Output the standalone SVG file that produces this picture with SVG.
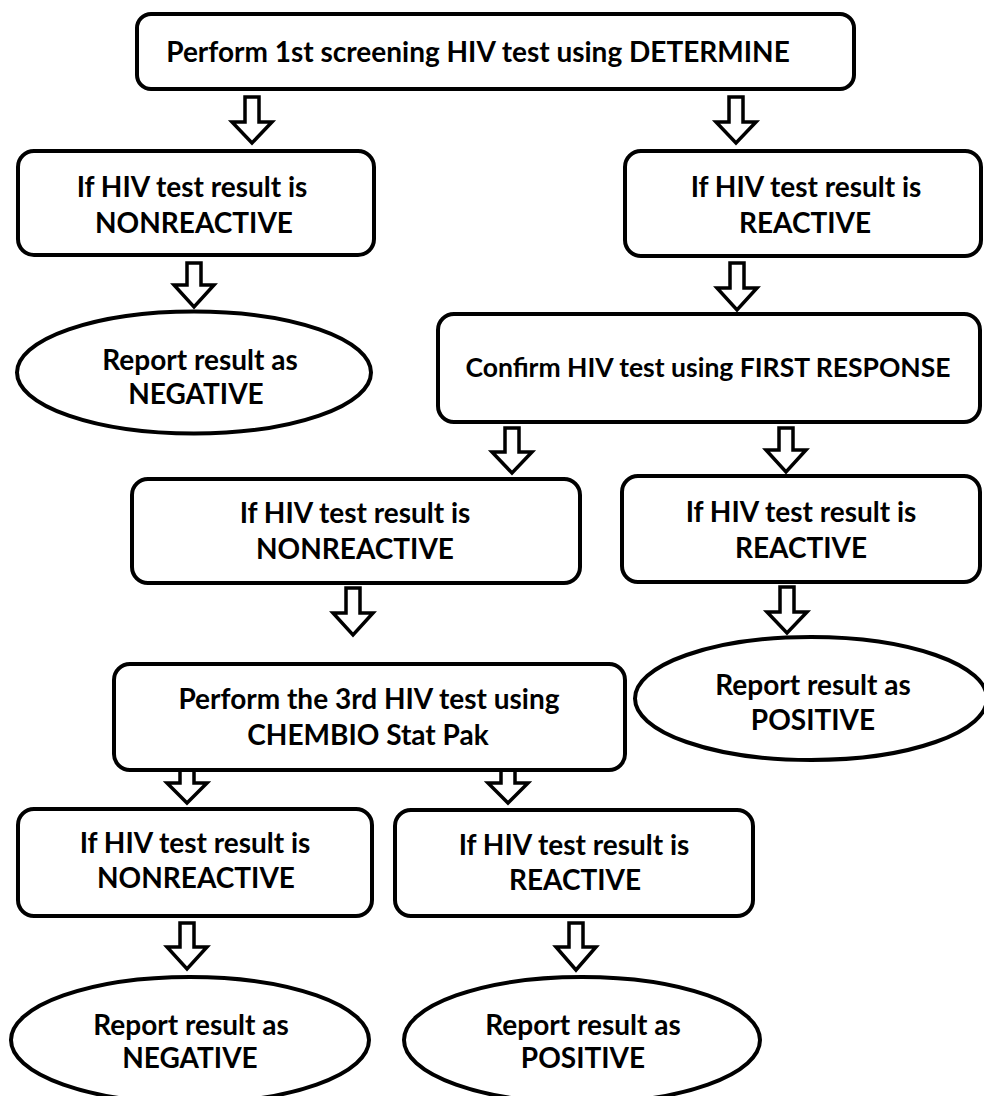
<svg xmlns="http://www.w3.org/2000/svg" width="984" height="1096" viewBox="0 0 984 1096">
<style>
.box{fill:#fff;stroke:#000;stroke-width:4}
.ell{fill:#fff;stroke:#000;stroke-width:4}
.arr{fill:#fff;stroke:#000;stroke-width:3.5;stroke-linejoin:miter}
text{font-family:Lato,"Open Sans","Liberation Sans",sans-serif;font-weight:bold;font-size:28px;fill:#000;text-anchor:middle}
.sm{font-size:26.5px}
</style>
<rect width="984" height="1096" fill="#fff"/>
<g id="connectors">
<path class="arr" d="M245,97 H259 V122 H272 L252,143 L232,122 H245 Z"/>
<path class="arr" d="M729,97 H743 V122 H756 L736,143 L716,122 H729 Z"/>
<path class="arr" d="M187,263 H201 V285 H214 L194,307 L174,285 H187 Z"/>
<path class="arr" d="M730,263 H744 V288 H757 L737,310 L717,288 H730 Z"/>
<path class="arr" d="M505,428 H519 V452 H532 L512,473 L492,452 H505 Z"/>
<path class="arr" d="M779,428 H793 V450 H806 L786,472 L766,450 H779 Z"/>
<path class="arr" d="M346,588 H360 V613 H373 L353,635 L333,613 H346 Z"/>
<path class="arr" d="M780,587 H794 V612 H807 L787,633 L767,612 H780 Z"/>
<path class="arr" d="M180,770 H194 V783 H207 L187,803 L167,783 H180 Z"/>
<path class="arr" d="M501,770 H515 V783 H528 L508,803 L488,783 H501 Z"/>
<path class="arr" d="M180,923 H194 V947 H207 L187,969 L167,947 H180 Z"/>
<path class="arr" d="M569,923 H583 V947 H596 L576,970 L556,947 H569 Z"/>
</g>
<g id="n-screen">
<rect class="box" x="137" y="14" width="717" height="75" rx="14"/>
<text x="478" y="62">Perform 1st screening HIV test using DETERMINE</text>
</g>
<g id="n-nr1">
<rect class="box" x="18" y="151" width="356" height="104" rx="16"/>
<text x="192" y="197">If HIV test result is</text>
<text x="194" y="233">NONREACTIVE</text>
</g>
<g id="n-r1">
<rect class="box" x="625" y="151" width="356" height="105" rx="16"/>
<text x="806" y="197">If HIV test result is</text>
<text x="805" y="233">REACTIVE</text>
</g>
<g id="n-neg1">
<ellipse class="ell" cx="194" cy="372.5" rx="177" ry="61"/>
<text x="200" y="370">Report result as</text>
<text x="196" y="404">NEGATIVE</text>
</g>
<g id="n-confirm">
<rect class="box" x="438" y="314" width="542" height="108" rx="16"/>
<text class="sm" x="708" y="377">Confirm HIV test using FIRST RESPONSE</text>
</g>
<g id="n-nr2">
<rect class="box" x="132" y="479" width="448" height="104" rx="16"/>
<text x="355" y="523">If HIV test result is</text>
<text x="355" y="559">NONREACTIVE</text>
</g>
<g id="n-r2">
<rect class="box" x="622" y="476" width="358" height="106" rx="16"/>
<text x="801" y="522">If HIV test result is</text>
<text x="801" y="558">REACTIVE</text>
</g>
<g id="n-pos1">
<ellipse class="ell" cx="811" cy="698.5" rx="176" ry="61.5"/>
<text x="813" y="695">Report result as</text>
<text x="813" y="730">POSITIVE</text>
</g>
<g id="n-third">
<rect class="box" x="114" y="664" width="511" height="106" rx="16"/>
<text x="369" y="709">Perform the 3rd HIV test using</text>
<text x="368" y="745">CHEMBIO Stat Pak</text>
</g>
<g id="n-nr3">
<rect class="box" x="18" y="809" width="354" height="107" rx="16"/>
<text x="195" y="853">If HIV test result is</text>
<text x="196" y="888">NONREACTIVE</text>
</g>
<g id="n-r3">
<rect class="box" x="395" y="810" width="358" height="106" rx="16"/>
<text x="574" y="855">If HIV test result is</text>
<text x="575" y="890">REACTIVE</text>
</g>
<g id="n-neg2">
<ellipse class="ell" cx="190" cy="1040" rx="179" ry="63"/>
<text x="191" y="1035">Report result as</text>
<text x="190" y="1068">NEGATIVE</text>
</g>
<g id="n-pos2">
<ellipse class="ell" cx="582" cy="1040" rx="178" ry="63"/>
<text x="583" y="1035">Report result as</text>
<text x="583" y="1068">POSITIVE</text>
</g>
</svg>
